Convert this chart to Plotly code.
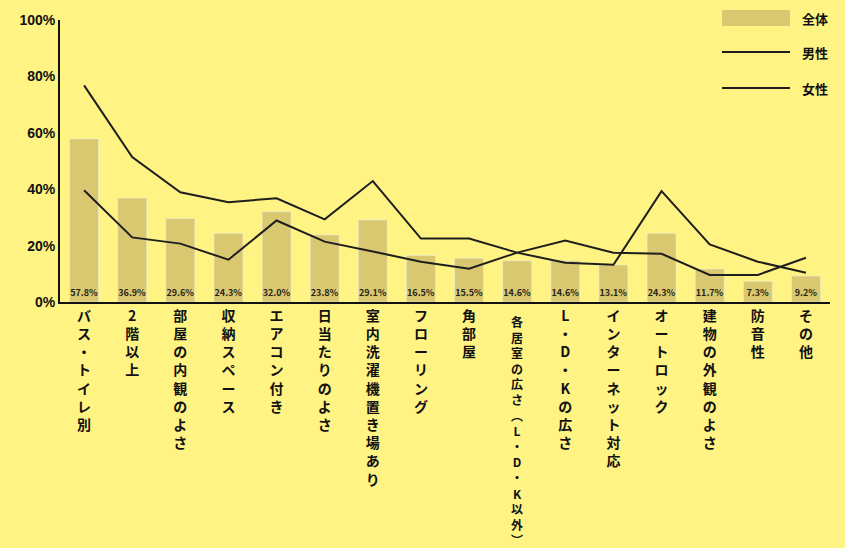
import plotly.graph_objects as go

categories = ["バス・トイレ別", "2階以上", "部屋の内観のよさ", "収納スペース", "エアコン付き",
              "日当たりのよさ", "室内洗濯機置き場あり", "フローリング", "角部屋",
              "各居室の広さ︵L・D・K以外︶", "L・D・Kの広さ", "インターネット対応",
              "オートロック", "建物の外観のよさ", "防音性", "その他"]
total = [57.8, 36.9, 29.6, 24.3, 32.0, 23.8, 29.1, 16.5, 15.5, 14.6, 14.6, 13.1, 24.3, 11.7, 7.3, 9.2]
female = [76.8, 51.4, 38.9, 35.4, 36.8, 29.3, 42.9, 22.5, 22.5, 17.5, 13.9, 13.2, 39.3, 20.4, 14.3, 10.4]
male = [39.6, 22.9, 20.7, 15.0, 28.9, 21.4, 17.9, 14.3, 11.8, 17.5, 21.8, 17.5, 17.1, 9.6, 9.6, 15.7]
yticks = [0, 20, 40, 60, 80, 100]
ytick_labels = [f"{v}%" for v in yticks]

FONT = "Noto Sans CJK JP"
BG = "#FFF483"
BAR = "#D9C870"
LINE = "#1e1e1e"
LONG = 9  # index of the long label, drawn a bit smaller so it fits

def vertical(s):
    return "<br>".join(list(s))

xs = list(range(len(categories)))
ticktext = ["" if i == LONG else f"<b>{vertical(c)}</b>" for i, c in enumerate(categories)]

fig = go.Figure()
fig.add_trace(go.Bar(x=xs, y=total, marker_color=BAR, width=0.6, name="全体",
                     text=[f"<b>{v:.1f}%</b>" for v in total], textposition="inside",
                     insidetextanchor="start", textangle=0, constraintext="none",
                     textfont=dict(size=9, color="#2a2615", family=FONT)))
fig.add_trace(go.Scatter(x=xs, y=female, mode="lines", line=dict(color=LINE, width=2), name="女性"))
fig.add_trace(go.Scatter(x=xs, y=male, mode="lines", line=dict(color=LINE, width=2), name="男性"))

W, H = 845, 548
L, R, T, B = 60, 15, 20, 246
pw, ph = W - L - R, H - T - B
def px(x):
    return (x - L) / pw
def py(y):
    return (H - B - y) / ph

fig.add_annotation(x=xs[LONG], xref="x", yref="paper", y=0, yshift=-9,
                   text=f"<b>{vertical(categories[LONG])}</b>", showarrow=False,
                   xanchor="center", yanchor="top",
                   font=dict(size=12, family=FONT, color="#111"))

# legend
fig.add_shape(type="rect", xref="paper", yref="paper", x0=px(722), x1=px(790), y0=py(26), y1=py(10),
              fillcolor=BAR, line_width=0)
for yy in (52, 88):
    fig.add_shape(type="line", xref="paper", yref="paper", x0=px(722), x1=px(790), y0=py(yy), y1=py(yy),
                  line=dict(color=LINE, width=2))
for txt, yy in (("全体", 18), ("男性", 52), ("女性", 88)):
    fig.add_annotation(xref="paper", yref="paper", x=px(800), y=py(yy), text=f"<b>{txt}</b>",
                       showarrow=False, xanchor="left", yanchor="middle",
                       font=dict(size=13, color="#111", family=FONT))

fig.update_layout(
    width=W, height=H, margin=dict(l=L, r=R, t=T, b=B, autoexpand=False),
    paper_bgcolor=BG, plot_bgcolor=BG, showlegend=False,
    font=dict(family=FONT, color="#111"),
    xaxis=dict(tickmode="array", tickvals=xs, ticktext=ticktext, range=[-0.5, 15.5],
               showline=True, linecolor="#111", linewidth=2, ticks="", showgrid=False,
               tickangle=0, tickfont=dict(size=14, family=FONT, color="#111"), zeroline=False,
               automargin=False),
    yaxis=dict(range=[0, 100], tickvals=yticks, ticktext=[f"<b>{t}</b>" for t in ytick_labels],
               showline=True, linecolor="#111", linewidth=2, ticks="", showgrid=False,
               zeroline=False, tickfont=dict(size=14, family="Liberation Sans", color="#111"),
               automargin=False),
)
fig.write_html("out.html", config={"displayModeBar": False},
               post_script="document.body.style.margin='0';document.body.style.overflow='hidden';")
